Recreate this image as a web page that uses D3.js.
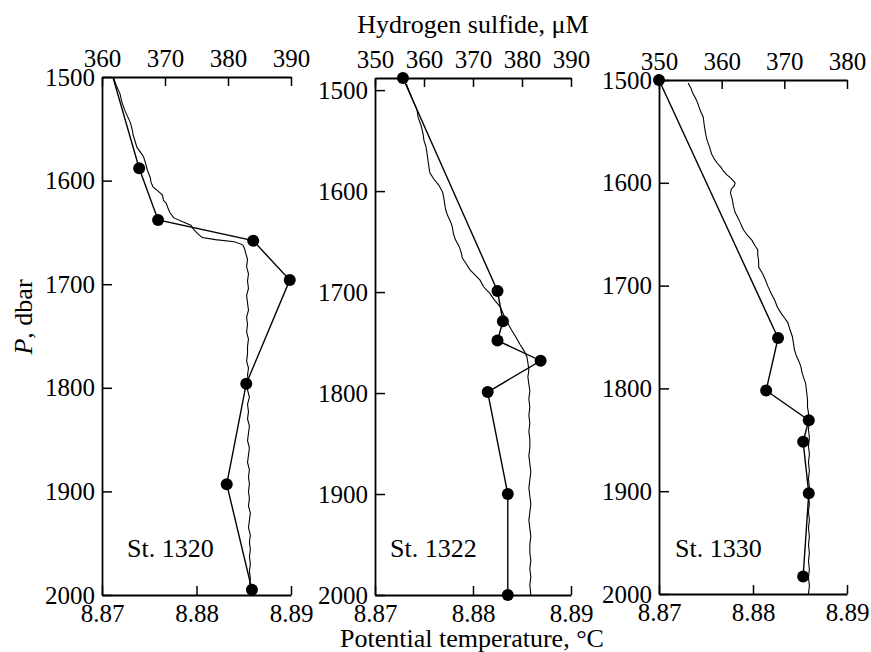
<!DOCTYPE html>
<html>
<head>
<meta charset="utf-8">
<script src="https://cdn.jsdelivr.net/npm/d3@7"></script>
<style>
  body { margin: 0; background: #fff; }
  svg { display: block; }
  text { font-family: "Liberation Serif", "Times New Roman", serif; fill: #000; }
</style>
</head>
<body>
<svg id="chart" width="871" height="652"></svg>
<script>
// station names
const stations = ["St. 1320", "St. 1322", "St. 1330"];

// tick labels
const pressureTicks = [1500, 1600, 1700, 1800, 1900, 2000];
const tempTicks = [8.87, 8.88, 8.89];
const h2sTicks1320 = [360, 370, 380, 390];
const h2sTicks1322 = [350, 360, 370, 380, 390];
const h2sTicks1330 = [350, 360, 370, 380];

// hydrogen sulfide samples [pressure dbar, H2S uM]
const h2s1320 = [[1470, 360.3], [1588, 365.9], [1638, 368.9], [1658, 384.0], [1696, 389.8], [1796, 382.9], [1893, 379.8], [1995, 383.8]];
const h2s1322 = [[1488, 355.7], [1699, 375.0], [1729, 376.1], [1748, 375.0], [1768, 383.8], [1799, 373.0], [1900, 377.1], [2000, 377.1]];
const h2s1330 = [[1500, 350.0], [1751, 369.0], [1802, 367.1], [1831, 373.9], [1852, 373.0], [1902, 373.9], [1983, 373.0]];

// potential temperature profiles [pressure dbar, theta degC]
const temp1320 = [
  [1500,8.8712],[1508,8.8715],[1516,8.8719],[1524,8.8721],[1532,8.8724],[1538,8.8727],[1544,8.8730],[1551,8.8732],
  [1556,8.8733],[1562,8.8735],[1568,8.8737],[1573,8.8741],[1577,8.8744],[1583,8.8746],[1590,8.8748],[1597,8.8751],
  [1602,8.8752],[1606,8.8754],[1610,8.8759],[1614,8.8764],[1619,8.8765],[1622,8.8768],[1627,8.8770],[1631,8.8772],
  [1636,8.8776],[1640,8.8786],[1643,8.8794],[1647,8.8797],[1651,8.8801],[1655,8.8806],[1657,8.8820],[1659,8.8840],
  [1662,8.8849],[1666,8.8851],[1670,8.8852],[1676,8.8854],[1683,8.8853],[1690,8.8855],[1697,8.8854],[1704,8.8855],
  [1711,8.8853],[1718,8.8854],[1725,8.8855],[1732,8.8853],[1739,8.8854],[1746,8.8853],[1753,8.8855],[1760,8.8854],
  [1767,8.8854],[1774,8.8853],[1781,8.8855],[1788,8.8854],[1795,8.8855],[1802,8.8854],[1809,8.8856],[1816,8.8854],
  [1823,8.8855],[1830,8.8854],[1837,8.8856],[1844,8.8855],[1851,8.8854],[1858,8.8856],[1865,8.8855],[1872,8.8854],
  [1879,8.8856],[1886,8.8855],[1893,8.8856],[1900,8.8855],[1907,8.8856],[1914,8.8855],[1921,8.8857],[1928,8.8856],
  [1935,8.8855],[1942,8.8857],[1949,8.8856],[1956,8.8857],[1963,8.8856],[1970,8.8857],[1977,8.8856],[1984,8.8857],
  [1991,8.8856],[2000,8.8857]
];
const temp1322 = [
  [1494,8.8732],[1499,8.8734],[1506,8.8737],[1513,8.8740],[1520,8.8743],[1527,8.8744],[1535,8.8747],[1543,8.8749],
  [1550,8.8750],[1556,8.8752],[1562,8.8753],[1569,8.8754],[1576,8.8755],[1582,8.8756],[1588,8.8760],[1594,8.8765],
  [1601,8.8769],[1606,8.8770],[1612,8.8771],[1618,8.8772],[1624,8.8774],[1630,8.8777],[1636,8.8779],[1642,8.8780],
  [1648,8.8782],[1655,8.8786],[1661,8.8788],[1666,8.8789],[1672,8.8793],[1678,8.8797],[1683,8.8802],[1688,8.8807],
  [1695,8.8811],[1701,8.8817],[1708,8.8822],[1715,8.8828],[1722,8.8831],[1730,8.8835],[1737,8.8839],[1745,8.8844],
  [1752,8.8848],[1758,8.8852],[1764,8.8855],[1770,8.8856],[1777,8.8857],[1784,8.8856],[1791,8.8857],[1798,8.8858],
  [1806,8.8857],[1814,8.8858],[1822,8.8857],[1830,8.8858],[1838,8.8857],[1846,8.8858],[1854,8.8858],[1862,8.8857],
  [1870,8.8858],[1878,8.8859],[1886,8.8858],[1894,8.8857],[1902,8.8858],[1910,8.8859],[1918,8.8858],[1926,8.8857],
  [1934,8.8858],[1942,8.8859],[1950,8.8858],[1958,8.8858],[1966,8.8859],[1974,8.8858],[1982,8.8859],[1990,8.8858],
  [2000,8.8859]
];
const temp1330 = [
  [1503,8.8731],[1508,8.8734],[1513,8.8736],[1518,8.8739],[1522,8.8741],[1530,8.8744],[1536,8.8747],[1543,8.8748],
  [1549,8.8749],[1554,8.8750],[1558,8.8751],[1566,8.8754],[1572,8.8756],[1577,8.8759],[1581,8.8762],[1585,8.8766],
  [1588,8.8768],[1592,8.8772],[1596,8.8777],[1600,8.8781],[1603,8.8780],[1606,8.8777],[1610,8.8776],[1616,8.8778],
  [1622,8.8779],[1629,8.8781],[1634,8.8784],[1638,8.8786],[1642,8.8788],[1646,8.8790],[1651,8.8794],[1656,8.8799],
  [1661,8.8802],[1665,8.8805],[1670,8.8805],[1676,8.8806],[1682,8.8806],[1688,8.8810],[1694,8.8813],[1701,8.8816],
  [1707,8.8819],[1714,8.8823],[1721,8.8826],[1727,8.8830],[1732,8.8834],[1736,8.8837],[1742,8.8839],[1750,8.8842],
  [1756,8.8843],[1762,8.8844],[1768,8.8846],[1774,8.8849],[1779,8.8851],[1784,8.8852],[1790,8.8854],[1795,8.8856],
  [1803,8.8857],[1811,8.8858],[1818,8.8858],[1824,8.8859],[1832,8.8860],[1840,8.8859],[1848,8.8860],[1856,8.8859],
  [1864,8.8860],[1872,8.8859],[1880,8.8860],[1888,8.8859],[1896,8.8860],[1904,8.8859],[1912,8.8860],[1920,8.8859],
  [1928,8.8860],[1936,8.8859],[1944,8.8860],[1952,8.8859],[1960,8.8860],[1968,8.8859],[1976,8.8860],[1984,8.8859],
  [1992,8.8860],[2000,8.8859]
];

// panel layout (pixels) and axis domains
const panels = [
  { name: stations[0], left: 102, right: 291, top: 77, bottom: 595, pDom: [1500, 2000], hDom: [360, 390], hTicks: h2sTicks1320, h2s: h2s1320, temp: temp1320, labelDx: 25 },
  { name: stations[1], left: 375, right: 571, top: 78, bottom: 595, pDom: [1488, 2000], hDom: [350, 390], hTicks: h2sTicks1322, h2s: h2s1322, temp: temp1322, labelDx: 15 },
  { name: stations[2], left: 659, right: 847, top: 80, bottom: 594, pDom: [1500, 2000], hDom: [350, 380], hTicks: h2sTicks1330, h2s: h2s1330, temp: temp1330, labelDx: 16 }
];

const svg = d3.select("#chart");
const tickFont = 25;

panels.forEach((p, i) => {
  const y = d3.scaleLinear().domain(p.pDom).range([p.top, p.bottom]);
  const xh = d3.scaleLinear().domain(p.hDom).range([p.left, p.right]);
  const xt = d3.scaleLinear().domain([8.87, 8.89]).range([p.left, p.right]);

  const g = svg.append("g");

  svg.append("clipPath").attr("id", "clip" + i)
    .append("rect")
    .attr("x", p.left - 10).attr("y", p.top)
    .attr("width", p.right - p.left + 20).attr("height", p.bottom - p.top + 2);

  // top axis: H2S
  const top = g.append("g").attr("transform", `translate(0,${p.top})`)
    .call(d3.axisTop(xh).tickValues(p.hTicks).tickFormat(d3.format("d")).tickSize(-9).tickSizeOuter(0).tickPadding(10));
  // bottom axis: potential temperature
  const bot = g.append("g").attr("transform", `translate(0,${p.bottom})`)
    .call(d3.axisBottom(xt).tickValues(tempTicks).tickFormat(d3.format(".2f")).tickSize(-9).tickSizeOuter(0).tickPadding(9));
  // left axis: pressure
  const lft = g.append("g").attr("transform", `translate(${p.left},0)`)
    .call(d3.axisLeft(y).tickValues(pressureTicks).tickFormat(d3.format("d")).tickSize(-10).tickSizeOuter(0).tickPadding(7));

  [top, bot, lft].forEach(a => {
    a.select(".domain").attr("stroke", "#000").attr("stroke-width", 1.8);
    a.selectAll(".tick line").attr("stroke", "#000").attr("stroke-width", 1.5);
    a.selectAll(".tick text").attr("font-size", tickFont).attr("fill", "#000");
  });

  // temperature profile
  const tLine = d3.line().x(d => xt(d[1])).y(d => y(d[0]));
  g.append("path").datum(p.temp)
    .attr("clip-path", `url(#clip${i})`)
    .attr("fill", "none").attr("stroke", "#000").attr("stroke-width", 1.1)
    .attr("d", tLine);

  // H2S profile
  const hLine = d3.line().x(d => xh(d[1])).y(d => y(d[0]));
  g.append("path").datum(p.h2s)
    .attr("clip-path", `url(#clip${i})`)
    .attr("fill", "none").attr("stroke", "#000").attr("stroke-width", 1.4)
    .attr("d", hLine);

  g.selectAll("circle.pt").data(p.h2s.filter(d => d[0] >= p.pDom[0]))
    .enter().append("circle").attr("class", "pt")
    .attr("cx", d => xh(d[1])).attr("cy", d => y(d[0]))
    .attr("r", 6).attr("fill", "#000");

  g.append("text")
    .attr("x", p.left + p.labelDx).attr("y", 557)
    .attr("font-size", 26)
    .text(p.name);
});

// axis titles
svg.append("text").attr("x", 473).attr("y", 33)
  .attr("text-anchor", "middle").attr("font-size", 26)
  .text("Hydrogen sulfide, \u03BCM");

svg.append("text").attr("x", 472).attr("y", 647)
  .attr("text-anchor", "middle").attr("font-size", 26)
  .text("Potential temperature, \u00B0C");

const yt = svg.append("text")
  .attr("transform", "translate(32,317) rotate(-90)")
  .attr("text-anchor", "middle").attr("font-size", 26);
yt.append("tspan").attr("font-style", "italic").text("P");
yt.append("tspan").text(", dbar");
</script>
</body>
</html>
